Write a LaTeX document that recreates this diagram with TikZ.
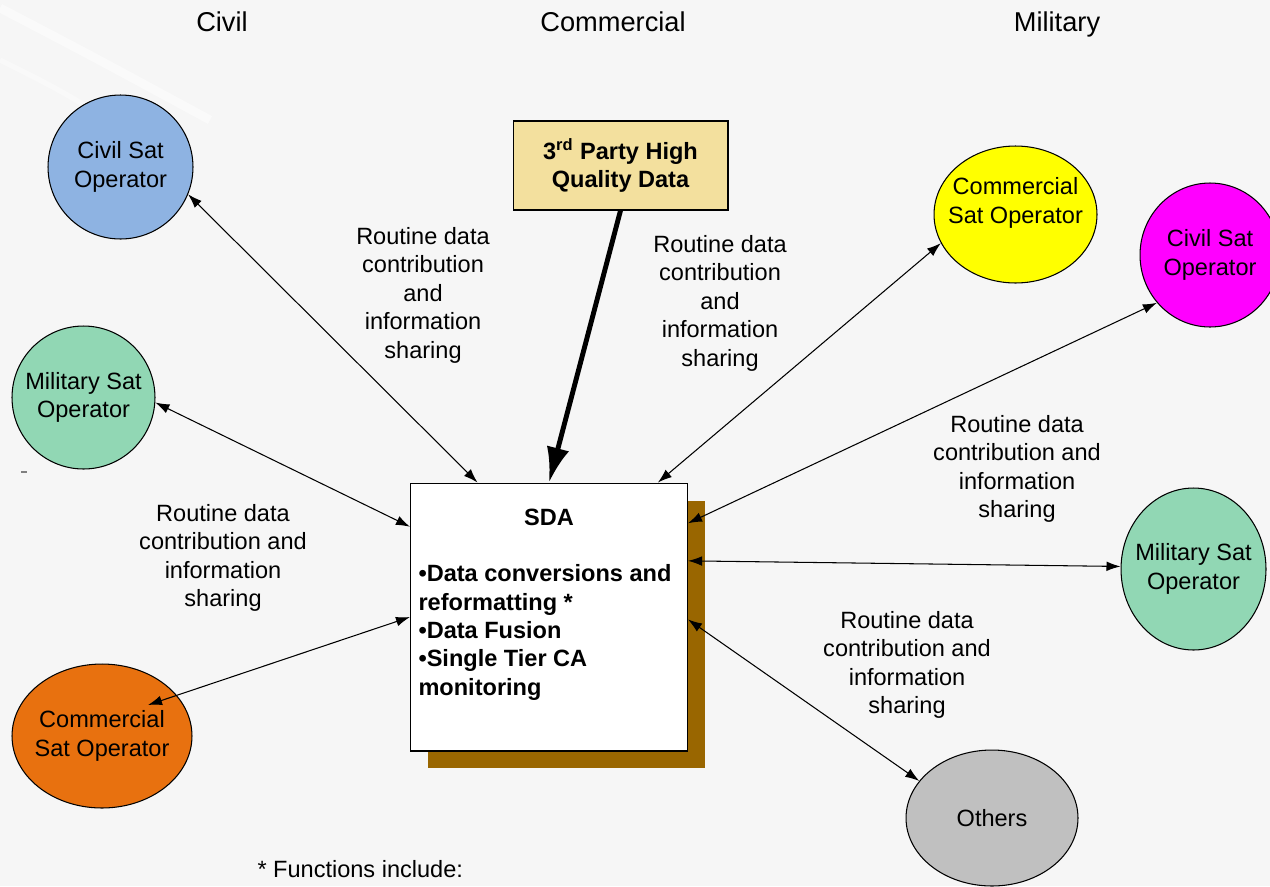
\documentclass[tikz,border=0pt]{standalone}
\usepackage{fontspec}
\setmainfont{Liberation Sans}
\usetikzlibrary{shapes.geometric, arrows.meta}

\definecolor{fondo}{RGB}{246,246,246}
\definecolor{azulsat}{RGB}{142,179,226}
\definecolor{verdesat}{RGB}{145,215,180}
\definecolor{naranjasat}{RGB}{232,113,15}
\definecolor{amarillosat}{RGB}{255,255,0}
\definecolor{magentasat}{RGB}{255,0,255}
\definecolor{grissat}{RGB}{192,192,192}
\definecolor{crema}{RGB}{243,224,158}
\definecolor{cafe}{RGB}{153,102,0}

\newcommand{\letra}{\fontsize{13.4}{16.2}\selectfont}
\newcommand{\titulo}{\fontsize{15.5}{18}\selectfont}

\begin{document}
\begin{tikzpicture}[x = 0.02cm, y = -0.02cm, line width = 0.6pt,
  >={Latex[length = 8pt, width = 5.5pt]},
  sat/.style = {draw, ellipse, inner sep = -8pt, align = center, font = \letra},
  texto/.style = {align = center, font = \letra},
  caja/.style = {rectangle, minimum width = 5.54cm, minimum height = 5.36cm, inner sep = 0pt}]

% Fondo con un par de brillos arriba a la izquierda
\useasboundingbox (0,0) rectangle (1270,886);
\fill[fondo] (0,0) rectangle (1270,886);
\draw[white, line width = 5pt, opacity = 0.45] (0,8) .. controls (90,55) .. (210,120);
\draw[white, line width = 3pt, opacity = 0.35] (0,60) .. controls (70,95) .. (170,160);
\draw[gray] (21,472) -- (27,472);

% Titulos de las columnas
\node[font = \titulo, anchor = base] (tcivil) at (222,31) {Civil};
\node[font = \titulo, anchor = base] (tcomercial) at (613,31) {Commercial};
\node[font = \titulo, anchor = base] (tmilitar) at (1057,31) {Military};

% Operadores de la izquierda
\node[sat, fill = azulsat, minimum width = 2.9cm, minimum height = 2.88cm] (civA) at (120.5,167) {Civil Sat\\Operator};
\node[sat, fill = verdesat, minimum width = 2.86cm, minimum height = 2.86cm] (milA) at (83.5,397.5) {Military Sat\\Operator};
\node[sat, fill = naranjasat, minimum width = 3.6cm, minimum height = 2.88cm] (comA) at (102,736) {Commercial\\Sat Operator};

% Operadores de la derecha
\node[sat, fill = amarillosat, minimum width = 3.26cm, minimum height = 2.74cm] (comB) at (1015.5,214.5) {Commercial\\Sat Operator\\\mbox{}};
\node[sat, fill = magentasat, minimum width = 2.8cm, minimum height = 2.88cm] (civB) at (1210,255) {Civil Sat\\Operator};
\node[sat, fill = verdesat, minimum width = 2.9cm, minimum height = 3.24cm] (milB) at (1193.5,569) {Military Sat\\Operator};
\node[sat, fill = grissat, minimum width = 3.44cm, minimum height = 2.72cm] (otros) at (992,818) {Others};

% Datos de terceros
\node[draw, fill = crema, minimum width = 4.3cm, minimum height = 1.78cm, align = center, font = \letra\bfseries] (party) at (620.5,165.5) {3\textsuperscript{rd} Party High\\Quality Data};

% Caja central con su sombra
\node[caja, fill = cafe] (sombra) at (566.5,634.5) {};
\node[caja, draw, fill = white] (sda) at (549,617) {};
\node[font = \letra\bfseries] (sdatit) at (549,517) {SDA};
\node[font = \letra\bfseries, align = left, anchor = north west, inner sep = 0pt] (sdalista) at (418,564)
  {•Data conversions and\\reformatting *\\•Data Fusion\\•Single Tier CA\\monitoring};

% Flechas hacia la caja central
\coordinate (comAtip) at (148,705);
\draw[<->] (civA.-22.5) -- (sda.118.4);
\draw[<->] (milA.-4) -- (sda.147.1);
\draw[<->] (comAtip) -- (sda.180);
\draw[line width = 2.8pt, -{Latex[length = 20pt, width = 13pt]}] (party.south) -- (sda.north);
\draw[<->] (comB.201) -- (sda.51.3);
\draw[<->] (civB.222) -- (sda.34.3);
\draw[<->] (milB.178.4) -- (sda.22.6);
\draw[<->] (otros.153) -- (sda.359.2);

% Etiquetas de las flechas
\node[texto] (etqA) at (423,295) {Routine data\\contribution\\and\\information\\sharing};
\node[texto] (etqB) at (720,303) {Routine data\\contribution\\and\\information\\sharing};
\node[texto] (etqC) at (223,558) {Routine data\\contribution and\\information\\sharing};
\node[texto] (etqD) at (1017,469) {Routine data\\contribution and\\information\\sharing};
\node[texto] (etqE) at (907,665) {Routine data\\contribution and\\information\\sharing};

% Nota al pie
\node[font = \letra, anchor = base west, inner sep = 0pt] (nota) at (257,877) {* Functions include:};
\end{tikzpicture}
\end{document}
